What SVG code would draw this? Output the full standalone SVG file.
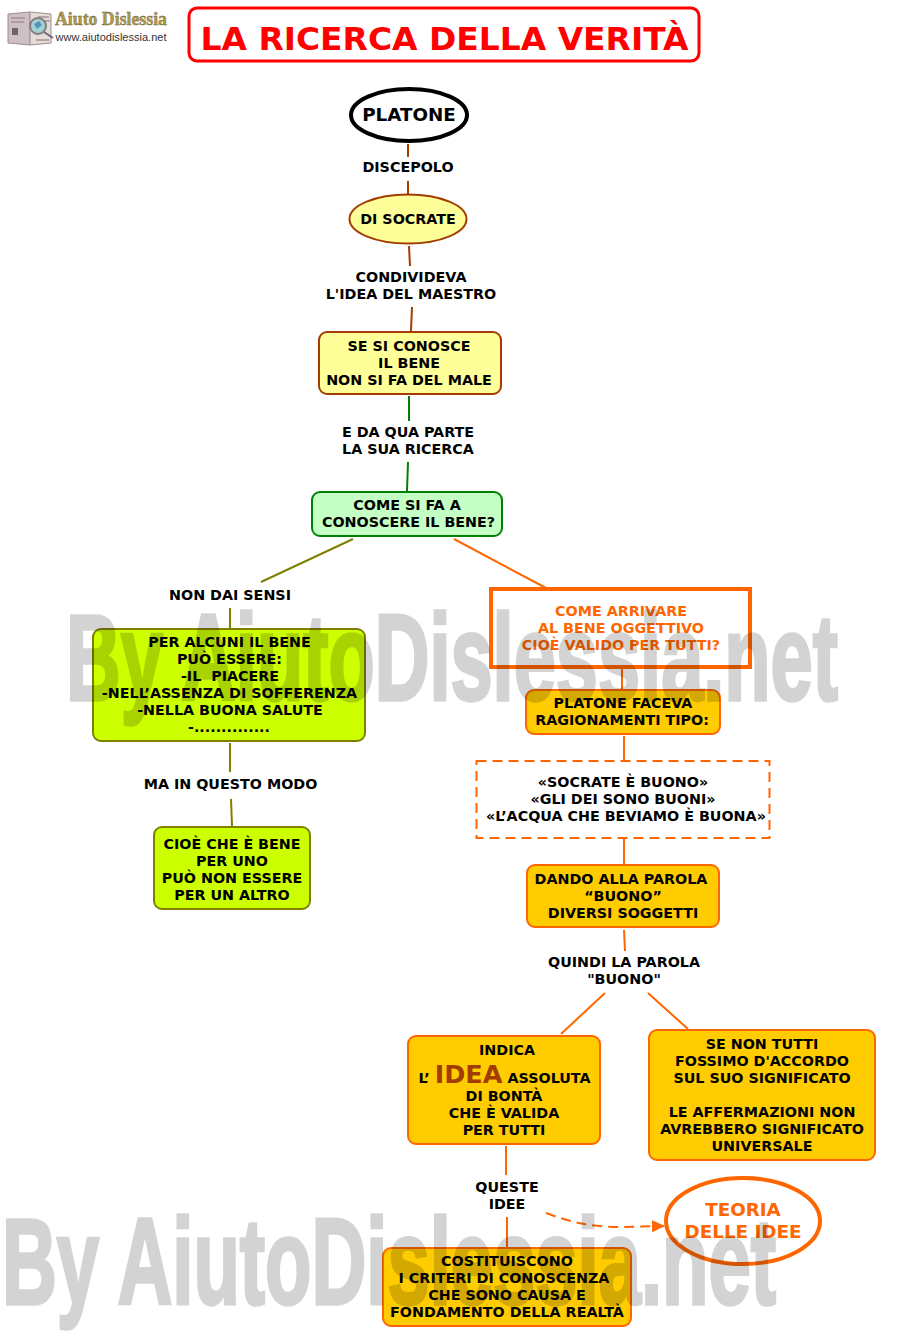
<svg xmlns="http://www.w3.org/2000/svg" width="900" height="1344" viewBox="0 0 900 1344">
<style>
text{font-family:"DejaVu Sans",Verdana,sans-serif;font-weight:700;text-anchor:middle;font-size:14.3px;fill:#000}
.or{fill:#f60}
.c{fill:none;stroke-width:2}
.o{stroke:#f60}.br{stroke:#a33c00}.ol{stroke:#808000}.gr{stroke:#008000}
.box{fill:#fc0;stroke:#f60;stroke-width:2}
.lim{fill:#cf0;stroke:#808000;stroke-width:2}
.yel{fill:#ff9;stroke:#a33c00;stroke-width:2}
.wm{font-family:"Liberation Sans",sans-serif;font-weight:700;fill:#000;stroke:#000;stroke-width:3.500;font-size:122px;text-anchor:start}
</style>
<defs><marker id="ah" markerWidth="13" markerHeight="12" refX="12" refY="6" orient="auto" markerUnits="userSpaceOnUse"><path d="M0 0L13 6L0 12Z" fill="#f60"/></marker></defs>
<g id="logo">
<path d="M8 14L30 12L30 45L8 43Z" fill="#cdbfc4" stroke="#9a8f92"/>
<path d="M30 12L51 14V43L30 45Z" fill="#e4dcd8" stroke="#9a8f92"/>
<path d="M11 18H25M11 22H24M38 17H49M42 21H50M36 40H49" stroke="#a78f96" stroke-width="1.500"/>
<path d="M12 28h6v7h-6z" fill="#6f6570"/>
<circle cx="38" cy="26" r="8" fill="#9fd4cf" stroke="#8a7a80" stroke-width="2"/>
<path d="M34 24l5-3 3 4-5 4z" fill="#5c8fc0"/>
<path d="M44 32L53 38" stroke="#77666f" stroke-width="2"/>
<text x="111" y="25" style="font-family:'Liberation Serif',serif;font-size:19px;fill:#b59a45;stroke:#5a5a40;stroke-width:.4" textLength="112" lengthAdjust="spacingAndGlyphs">Aiuto Dislessia</text>
<text x="111" y="41" style="font-family:'Liberation Sans',sans-serif;font-size:10.800px;font-weight:400;fill:#333" textLength="111" lengthAdjust="spacingAndGlyphs">www.aiutodislessia.net</text>
</g>
<g id="title"><rect x="189" y="8" width="510" height="53" rx="8" fill="#fff" stroke="#f00" stroke-width="3"/>
<text x="444.500" y="50" style="font-size:32px;fill:#f00" textLength="488" lengthAdjust="spacingAndGlyphs">LA RICERCA DELLA VERITÀ</text></g>
<g id="connectors">
<path class="c br" d="M408 144V157M408 181V194M409 246L410 266M412 307L411 331"/>
<path class="c gr" d="M409 396V421M408 462L407 491"/>
<path class="c ol" d="M353 539L261 582M230 608V629M230 743V772M231 799L232 826"/>
<path class="c o" d="M454 539L546 588M622 667V690M624 736V761M624 839V865M624 930L625 951M605 993L561 1034M648 993L688 1029M506 1146V1175M507 1217V1248"/>
<path class="c o" stroke-dasharray="10 6" marker-end="url(#ah)" d="M546 1213C570 1222 590 1227 620 1227L664 1226"/>
</g>
<g id="platone"><ellipse cx="409" cy="115" rx="58" ry="26" fill="#fff" stroke="#000" stroke-width="4"/><text x="409" y="121" style="font-size:18.300px">PLATONE</text></g>
<g id="l-discepolo"><text x="408" y="172">DISCEPOLO</text></g>
<g id="socrate"><ellipse cx="408" cy="219" rx="58.500" ry="24.500" class="yel"/><text x="408" y="224">DI SOCRATE</text></g>
<g id="l-condivideva"><text x="411" y="282">CONDIVIDEVA</text><text x="411" y="299">L'IDEA DEL MAESTRO</text></g>
<g id="bene"><rect x="319" y="332" width="182" height="62" rx="8" class="yel"/><text x="409" y="351">SE SI CONOSCE</text><text x="409" y="368">IL BENE</text><text x="409" y="385">NON SI FA DEL MALE</text></g>
<g id="l-qua"><text x="408" y="437">E DA QUA PARTE</text><text x="408" y="454">LA SUA RICERCA</text></g>
<g id="come"><rect x="312" y="492" width="190" height="44" rx="8" fill="#c4ffc4" stroke="#008000" stroke-width="2"/><text x="407" y="510">COME SI FA A</text><text x="408.500" y="527">CONOSCERE IL BENE?</text></g>
<g id="l-sensi"><text x="230" y="600">NON DAI SENSI</text></g>
<g id="alcuni"><rect x="93" y="629" width="272" height="112" rx="8" class="lim"/><text x="229.500" y="647">PER ALCUNI IL BENE</text><text x="229.500" y="664">PUÒ ESSERE:</text><text x="230" y="681" xml:space="preserve">-IL  PIACERE</text><text x="229.500" y="698">-NELL’ASSENZA DI SOFFERENZA</text><text x="230" y="715">-NELLA BUONA SALUTE</text><text x="229" y="732">-..............</text></g>
<g id="l-modo"><text x="230.500" y="789">MA IN QUESTO MODO</text></g>
<g id="cioe"><rect x="154" y="827" width="156" height="82" rx="8" class="lim"/><text x="232" y="849">CIOÈ CHE È BENE</text><text x="232" y="866">PER UNO</text><text x="232" y="883">PUÒ NON ESSERE</text><text x="232" y="900">PER UN ALTRO</text></g>
<g id="arrivare"><rect x="491" y="589" width="259" height="78" fill="#fff" stroke="#f60" stroke-width="4"/><text class="or" x="621" y="616">COME ARRIVARE</text><text class="or" x="621" y="633">AL BENE OGGETTIVO</text><text class="or" x="621" y="650">CIOÈ VALIDO PER TUTTI?</text></g>
<g id="faceva"><rect x="526" y="690" width="194" height="44" rx="8" class="box"/><text x="623" y="708">PLATONE FACEVA</text><text x="622" y="725">RAGIONAMENTI TIPO:</text></g>
<g id="esempi"><rect x="476.500" y="761" width="293" height="77" fill="#fff" stroke="#f60" stroke-width="2" stroke-dasharray="10 6"/><text x="623" y="787">«SOCRATE È BUONO»</text><text x="623" y="804">«GLI DEI SONO BUONI»</text><text x="626" y="821">«L’ACQUA CHE BEVIAMO È BUONA»</text></g>
<g id="dando"><rect x="527" y="865" width="192" height="62" rx="8" class="box"/><text x="621" y="884">DANDO ALLA PAROLA</text><text x="623" y="901">“BUONO”</text><text x="623" y="918">DIVERSI SOGGETTI</text></g>
<g id="l-quindi"><text x="624" y="967">QUINDI LA PAROLA</text><text x="624" y="984">"BUONO"</text></g>
<g id="indica"><rect x="408" y="1036" width="192" height="108" rx="8" class="box"/><text x="507" y="1055">INDICA</text><text x="504.500" y="1083">L’ <tspan style="font-size:25.500px;fill:#a33c00">IDEA</tspan> ASSOLUTA</text><text x="504" y="1101">DI BONTÀ</text><text x="504" y="1118">CHE È VALIDA</text><text x="504" y="1135">PER TUTTI</text></g>
<g id="nontutti"><rect x="649" y="1030" width="226" height="130" rx="8" class="box"/><text x="762" y="1049">SE NON TUTTI</text><text x="762" y="1066">FOSSIMO D'ACCORDO</text><text x="762" y="1083">SUL SUO SIGNIFICATO</text><text x="762" y="1117">LE AFFERMAZIONI NON</text><text x="762" y="1134">AVREBBERO SIGNIFICATO</text><text x="762" y="1151">UNIVERSALE</text></g>
<g id="l-queste"><text x="507" y="1192">QUESTE</text><text x="507" y="1209">IDEE</text></g>
<g id="teoria"><ellipse cx="743" cy="1221" rx="77" ry="43" fill="#fff" stroke="#f60" stroke-width="4"/><text class="or" x="743" y="1216" style="font-size:18.300px">TEORIA</text><text class="or" x="743" y="1238" style="font-size:18.300px">DELLE IDEE</text></g>
<g id="criteri"><rect x="383" y="1248" width="248" height="78" rx="8" class="box"/><text x="507" y="1266">COSTITUISCONO</text><text x="504" y="1283">I CRITERI DI CONOSCENZA</text><text x="507" y="1300">CHE SONO CAUSA E</text><text x="507" y="1317">FONDAMENTO DELLA REALTÀ</text></g>
<g id="watermark" opacity=".17"><text class="wm" x="66" y="700" textLength="772" lengthAdjust="spacingAndGlyphs">By AiutoDislessia.net</text><text class="wm" x="2" y="1304" textLength="774" lengthAdjust="spacingAndGlyphs">By AiutoDislessia.net</text></g>
</svg>
